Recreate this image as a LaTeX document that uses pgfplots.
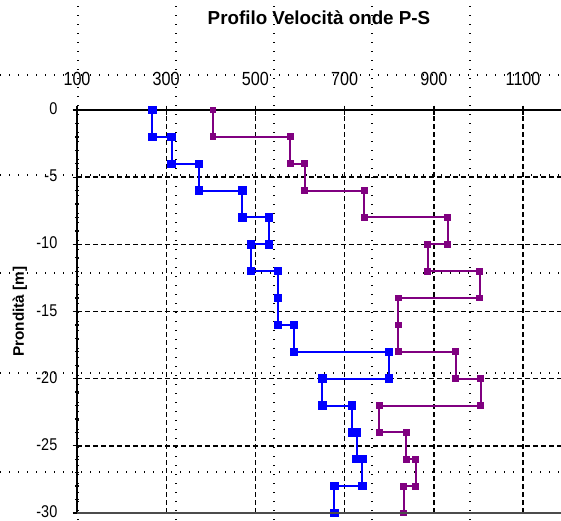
\documentclass[border=0pt]{standalone}
\usepackage{fontspec}
\setmainfont{Liberation Sans}
\newfontfamily\tickfont[FakeStretch=0.85]{Liberation Sans}
\usepackage{pgfplots}
\pgfplotsset{compat=1.18}
\definecolor{vsblue}{RGB}{0,0,255}
\definecolor{vppurple}{RGB}{128,0,128}
\begin{document}
\begin{tikzpicture}
% background dotted grid spanning the whole picture
\begin{axis}[at={(0pt,0pt)}, anchor=south west, scale only axis,
  width=561pt, height=520pt, xmin=0, xmax=561, ymin=0, ymax=520,
  xtick={78,176,274,372,470}, ytick={48,147,247,345,445},
  xticklabels={}, yticklabels={}, major tick length=0pt,
  grid=major, major grid style={black, line width=1.4pt, dash pattern=on 1.4pt off 7.6pt},
  axis line style={draw=none}]
\end{axis}
\begin{axis}[at={(77pt,7pt)}, anchor=south west, scale only axis,
  width=484pt, height=403pt,
  xmin=100, xmax=1185, ymin=-30, ymax=0,
  axis x line=top, axis y line=left,
  x axis line style={-, line width=1.6pt},
  y axis line style={-, line width=1.6pt},
  xtick={100,300,...,1100}, ytick={-30,-25,...,0},
  minor y tick num=4,
  tick align=center, major tick length=9pt, minor tick length=4pt,
  tick style={black, line width=1.3pt},
  grid=major, major grid style={black, line width=1.4pt, dash pattern=on 5pt off 3pt},
  /pgf/number format/assume math mode=true,
  /pgf/number format/set thousands separator={},
  xticklabel style={font=\tickfont\fontsize{19}{19}\selectfont, anchor=base, inner sep=0pt, yshift=20pt},
  yticklabel style={font=\tickfont\fontsize{17}{17}\selectfont, anchor=east, inner sep=0pt, xshift=-15pt, yshift=1.2pt},
  title={Profilo Velocità onde P-S},
  title style={font=\bfseries\fontsize{18.8}{20}\selectfont, at={(axis description cs:0.5,1.2134)}, anchor=center},
  ylabel={Prondità [m]},
  ylabel style={font=\bfseries\fontsize{15.3}{16}\selectfont, at={(axis description cs:-0.118,0.5)}, anchor=center},
  clip=false,
  after end axis/.code={\draw[gray!60!black, line width=1.8pt] (axis cs:100,-30) -- (axis cs:1185,-30);}
]
\addplot[vsblue, line width=2pt, mark=square*, mark size=3.2pt, mark options={solid}] coordinates {
(269,0)(269,-2)(312,-2)(312,-4)(373,-4)(373,-6)(471,-6)(471,-8)(530,-8)(530,-10)
(490,-10)(490,-12)(551,-12)(551,-14)(551,-16)(587,-16)(587,-18)(800,-18)(800,-20)
(650,-20)(650,-22)(717,-22)(717,-24)(727,-24)(727,-26)(740,-26)(740,-28)(677,-28)(677,-30)
};
\addplot[vppurple, line width=2pt, mark=square*, mark size=2.4pt, mark options={solid}] coordinates {
(405,0)(405,-2)(578,-2)(578,-4)(610,-4)(610,-6)(744,-6)(744,-8)(931,-8)(931,-10)
(886,-10)(886,-12)(1003,-12)(1003,-14)(820,-14)(820,-16)(820,-18)(949,-18)(949,-20)
(1005,-20)(1005,-22)(778,-22)(778,-24)(838,-24)(838,-26)(859,-26)(859,-28)(832,-28)(832,-30)
};
\end{axis}
\pgfresetboundingbox
\path[use as bounding box] (0pt,0pt) rectangle (561pt,520pt);
\end{tikzpicture}
\end{document}
